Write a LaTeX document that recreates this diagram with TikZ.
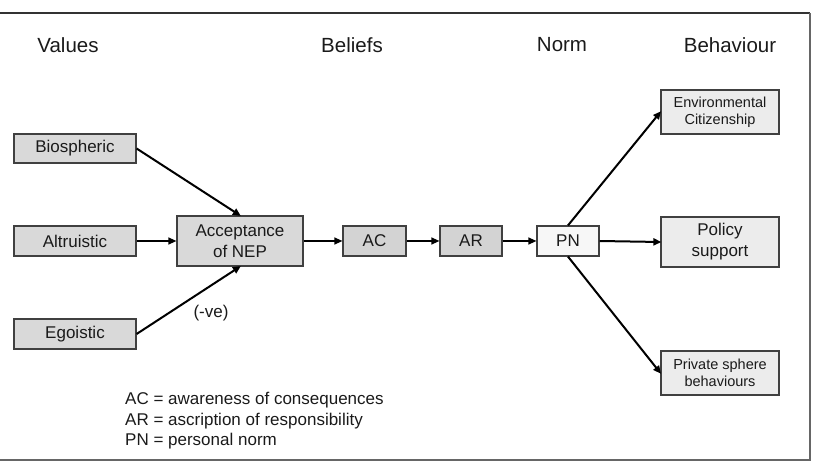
\documentclass[tikz,border=0pt]{standalone}
\usepackage{fontspec}
\setmainfont{Liberation Sans}
\usetikzlibrary{arrows.meta}
\definecolor{boxgray}{HTML}{D9D9D9}
\definecolor{boxdark}{HTML}{D3D3D3}
\definecolor{boxlight}{HTML}{ECECEC}
\definecolor{boxwhite}{HTML}{F7F7F7}
\definecolor{edge}{HTML}{404040}
\definecolor{txt}{HTML}{1A1A1A}
\definecolor{frame}{HTML}{666666}
\begin{document}
\begin{tikzpicture}[x=1pt,y=-1pt,
  box/.style={draw=edge, line width=1.2pt, rectangle, inner sep=0pt, align=center,
    text=txt, font=\fontsize{17}{21}\selectfont},
  head/.style={text=txt, inner sep=0pt, font=\fontsize{20.5}{24}\selectfont},
  legend/.style={text=txt, inner sep=0pt, anchor=west, font=\fontsize{17}{20}\selectfont},
  arr/.style={-{Triangle[length=8pt,width=7pt]}, line width=1.3pt, black},
  diag/.style={-{Triangle[length=8pt,width=7pt]}, line width=2pt, black, shorten >=-1pt}]
\useasboundingbox (0,0) rectangle (822,462);
% frame
\draw[line width=1.3pt, color=black!80] (-2,13) -- (810,13);
\draw[line width=2pt, color=frame] (810,13) -- (810,460) -- (-2,460);
% headers
\node[head] (hval) at (68,45) {Values};
\node[head] (hbel) at (352,45) {Beliefs};
\node[head] (hnorm) at (562,45) {Norm};
\node[head] (hbeh) at (730,45) {Behaviour};
% value boxes
\node[box, fill=boxgray, minimum width=122pt, minimum height=29pt] (bio) at (75,148.5) {Biospheric};
\node[box, fill=boxgray, minimum width=122pt, minimum height=30pt] (alt) at (75,241) {Altruistic};
\node[box, fill=boxgray, minimum width=122pt, minimum height=30pt] (ego) at (75,334) {Egoistic};
% beliefs
\node[box, fill=boxgray, minimum width=126pt, minimum height=50pt] (nep) at (240,241) {Acceptance\\of NEP};
\node[box, fill=boxdark, minimum width=63pt, minimum height=30pt] (ac) at (374.5,241) {AC};
\node[box, fill=boxdark, minimum width=62pt, minimum height=30pt] (ar) at (471,241) {AR};
% norm
\node[box, fill=boxwhite, minimum width=62pt, minimum height=30pt] (pn) at (568,241) {PN};
% behaviours
\node[box, fill=boxlight, minimum width=118pt, minimum height=44pt, font=\fontsize{14.5}{17}\selectfont] (ec) at (720,112) {Environmental\\Citizenship};
\node[box, fill=boxlight, minimum width=118pt, minimum height=50pt] (ps) at (720,242) {Policy\\support};
\node[box, fill=boxlight, minimum width=118pt, minimum height=44pt, font=\fontsize{14.5}{17}\selectfont] (pr) at (720,373) {Private sphere\\behaviours};
% connectors
\draw[diag] (bio.east) -- (nep.north);
\draw[arr] (alt.east) -- (nep.west);
\draw[diag] (ego.east) -- (nep.south);
\draw[arr] (nep.east) -- (ac.west);
\draw[arr] (ac.east) -- (ar.west);
\draw[arr] (ar.east) -- (pn.west);
\draw[diag] (pn.north) -- (ec.west);
\draw[diag] (pn.east) -- (ps.west);
\draw[diag] (pn.south) -- (pr.west);
% labels
\node[text=txt, inner sep=0pt, font=\fontsize{17}{20}\selectfont] (neg) at (211,313) {(-ve)};
\node[legend] (l1) at (125,400) {AC = awareness of consequences};
\node[legend] (l2) at (125,421) {AR = ascription of responsibility};
\node[legend] (l3) at (125,441) {PN = personal norm};
\end{tikzpicture}
\end{document}
